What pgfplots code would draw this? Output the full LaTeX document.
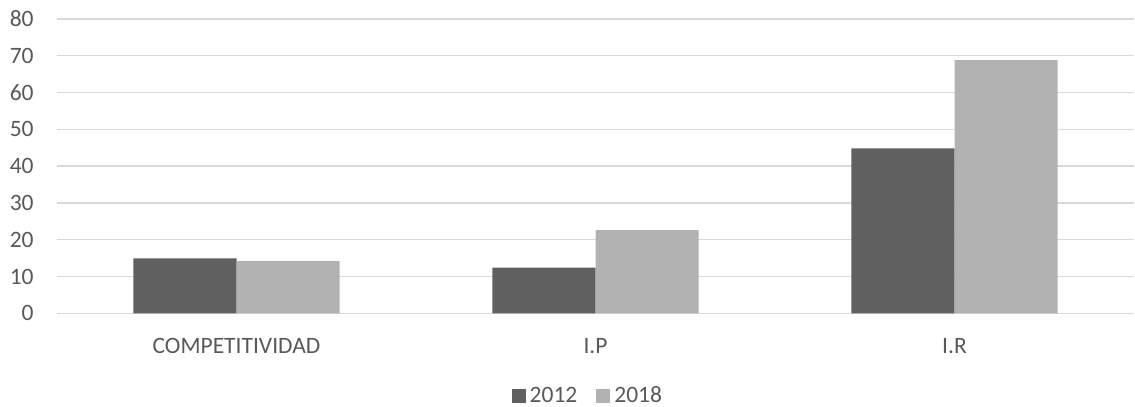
\documentclass[border=0pt]{standalone}
\usepackage{fontspec}
\setmainfont{Carlito}
\usepackage{pgfplots}
\pgfplotsset{compat=1.18}

\definecolor{bardark}{HTML}{606060}
\definecolor{barlight}{HTML}{B2B2B2}
\definecolor{gridgray}{HTML}{D9D9D9}
\definecolor{textgray}{HTML}{595959}

\begin{document}
\begin{tikzpicture}
\useasboundingbox (0,0) rectangle (567.5bp,203.5bp);
\begin{axis}[
  at={(28.5bp,46.85bp)}, anchor=south west,
  scale only axis,
  width=538.5bp, height=147.15bp,
  xmin=-0.5, xmax=2.5,
  ymin=0, ymax=80,
  ytick={0,10,...,80},
  xtick={0,1,2},
  xticklabels={COMPETITIVIDAD,I.P,I.R},
  axis line style={draw=none},
  major tick style={draw=none},
  ymajorgrids,
  grid style={gridgray, line width=0.7bp},
  font=\fontsize{11.75bp}{14bp}\selectfont,
  tick label style={text=textgray},
  /pgf/number format/assume math mode=true,
  yticklabel style={anchor=east, inner sep=0pt, xshift=-11.5bp},
  xticklabel style={anchor=base, inner sep=0pt, yshift=-20bp},
  bar width=0.287,
  legend columns=2,
  legend style={
    draw=none, fill=none,
    at={(axis description cs:0.4222,-0.3146)}, anchor=south west,
    inner sep=0pt, outer sep=0pt,
    nodes={inner sep=0pt, text=textgray},
    font=\fontsize{11.75bp}{14bp}\selectfont,
    /tikz/every odd column/.append style={column sep=2bp},
    /tikz/every even column/.append style={column sep=9.5bp},
  },
  legend image code/.code={\fill[#1] (0bp,-3.5bp) rectangle (7bp,3.5bp);},
]
\addplot[ybar, bar shift=-0.1435, fill=bardark, draw=none]
  coordinates {(0,14.95) (1,12.4) (2,44.85)};
\addlegendentry{2012}
\addplot[ybar, bar shift=0.1435, fill=barlight, draw=none]
  coordinates {(0,14.2) (1,22.64) (2,68.85)};
\addlegendentry{2018}
\end{axis}
\end{tikzpicture}
\end{document}
